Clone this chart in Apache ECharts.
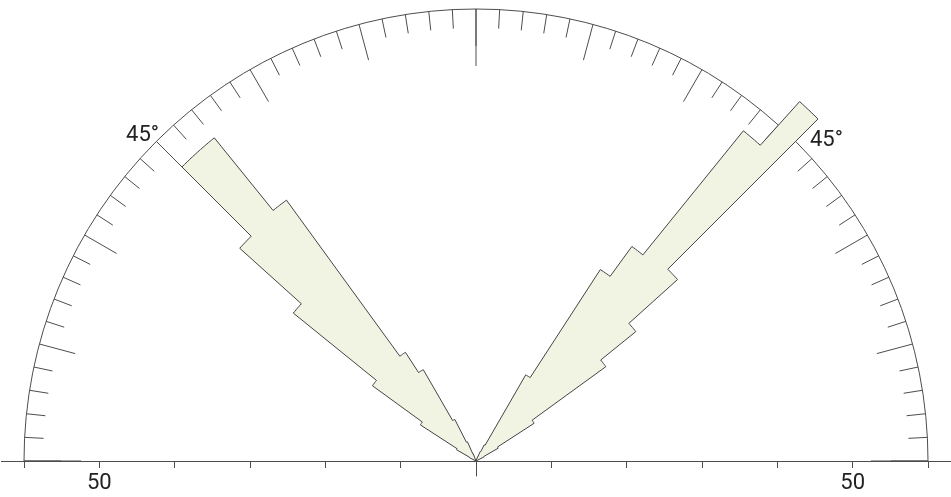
<!DOCTYPE html>
<html>
<head>
<meta charset="utf-8">
<title>Rose diagram</title>
<script src="https://cdn.jsdelivr.net/npm/echarts@6/dist/echarts.min.js"></script>
<style>
  html, body { margin: 0; padding: 0; background: #fff; }
  #main { width: 951px; height: 497px; }
</style>
</head>
<body>
<div id="main"></div>
<script>
// class edges, degrees away from the vertical (3 degree classes)
var binEdges = [21, 24, 27, 30, 33, 36, 39, 42, 45, 48, 51, 54, 57, 60, 63];
// class lengths on the radial scale, left half and right half
var leftLobe  = [1.0, 2.8, 6.2, 14.0, 17.2, 42.8, 55.2, 55.2, 42.2, 31.2, 17.0, 8.8, 3.0, 1.0];
var rightLobe = [0.6, 1.4, 2.4, 13.2, 30.3, 35.2, 56.4, 64.2, 36.0, 27.3, 21.3, 9.2, 3.4, 1.2];
// base line ticks and labels
var baseTicks = [-60, -50, -40, -30, -20, -10, 0, 10, 20, 30, 40, 50, 60];
var baseLabels = [-50, 50];
// labelled angle on the arc
var angleLabels = [45];

var lineColor = '#4d4d4d';
var textColor = '#222';
var cx = 476, cy = 461;

var chartDom = document.getElementById('main');
var myChart = echarts.init(chartDom, null, { renderer: 'canvas' });

// outline of one lobe: center -> every class arc -> back to center
function lobePoints(lobe, sign, api) {
  var pts = [api.coord([0, 0])];
  for (var i = 0; i < lobe.length; i++) {
    var a0 = binEdges[i], a1 = binEdges[i + 1];
    for (var k = 0; k <= 6; k++) {
      var a = a0 + (a1 - a0) * k / 6;
      pts.push(api.coord([lobe[i], sign * a]));
    }
  }
  return pts;
}

var option = {
  animation: false,
  backgroundColor: '#fff',
  grid: { left: cx - 474.6, width: 949.2, top: 300, height: cy - 300 },
  xAxis: {
    type: 'value',
    min: -63,
    max: 63,
    interval: 10,
    axisLine: { show: true, lineStyle: { color: lineColor, width: 1 } },
    axisTick: { show: true, length: 7, customValues: baseTicks, lineStyle: { color: lineColor, width: 1 } },
    axisLabel: {
      show: true,
      customValues: baseLabels,
      margin: 11,
      fontSize: 22,
      fontFamily: 'Roboto',
      color: textColor,
      formatter: function (v) {
        return baseLabels.indexOf(v) >= 0 ? String(Math.abs(v)) : '';
      }
    },
    splitLine: { show: false }
  },
  yAxis: { type: 'value', show: false, min: 0, max: 1 },
  polar: [
    { center: [cx, cy], radius: 452 },
    { center: [cx, cy], radius: 452 },
    { center: [cx, cy], radius: 15 }
  ],
  angleAxis: [
    {
      polarIndex: 0,
      type: 'value',
      min: -90,
      max: 90,
      interval: 15,
      startAngle: 180,
      endAngle: 0,
      clockwise: true,
      axisLine: { show: true, lineStyle: { color: lineColor, width: 1 } },
      axisTick: { show: true, inside: true, length: 37, lineStyle: { color: lineColor, width: 1 } },
      minorTick: { show: true, splitNumber: 5, length: 19, lineStyle: { color: lineColor, width: 1 } },
      splitLine: { show: false },
      axisLabel: {
        show: true,
        margin: -15,
        fontSize: 22,
        fontFamily: 'Roboto',
        color: textColor,
        formatter: function (v) {
          if (angleLabels.indexOf(Math.abs(v)) < 0) return '';
          return v < 0 ? '{a|' + Math.abs(v) + '°}' : '{b|' + v + '°}';
        },
        rich: {
          a: { fontSize: 22, fontFamily: 'Roboto', color: textColor, padding: [0, 8, 5, 0] },
          b: { fontSize: 22, fontFamily: 'Roboto', color: textColor, padding: [0, 0, 0, 25] }
        }
      }
    },
    {
      polarIndex: 1,
      type: 'value',
      min: -90,
      max: 90,
      interval: 90,
      startAngle: 180,
      endAngle: 0,
      axisLine: { show: false },
      axisTick: { show: true, inside: true, length: 57, lineStyle: { color: lineColor, width: 1 } },
      axisLabel: { show: false },
      splitLine: { show: false }
    },
    {
      polarIndex: 2,
      type: 'value',
      startAngle: 270,
      show: false
    }
  ],
  radiusAxis: [
    { polarIndex: 0, type: 'value', min: 0, max: 60, show: false },
    { polarIndex: 1, type: 'value', min: 0, max: 60, show: false },
    {
      polarIndex: 2,
      type: 'value',
      min: 0,
      max: 1,
      axisLine: { show: true, lineStyle: { color: lineColor, width: 1 } },
      axisTick: { show: false },
      axisLabel: { show: false },
      splitLine: { show: false }
    }
  ],
  series: [
    {
      type: 'custom',
      coordinateSystem: 'polar',
      polarIndex: 0,
      silent: true,
      z: 5,
      data: [[0, 0], [0, 0]],
      renderItem: function (params, api) {
        var lobe = params.dataIndex === 0 ? leftLobe : rightLobe;
        var sign = params.dataIndex === 0 ? -1 : 1;
        return {
          type: 'polygon',
          shape: { points: lobePoints(lobe, sign, api) },
          style: { fill: '#f1f3e3', stroke: '#454545', lineWidth: 1 }
        };
      }
    }
  ]
};

myChart.setOption(option);
</script>
</body>
</html>
